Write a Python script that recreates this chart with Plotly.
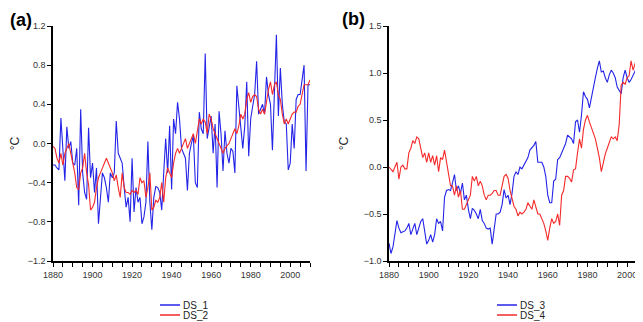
import plotly.graph_objects as go
from plotly.subplots import make_subplots

years_a = list(range(1880, 2011))
ds1 = [-0.22, -0.22, -0.25, -0.27, 0.26, -0.10, -0.38, 0.17, -0.05, 0.02,
       -0.20, -0.22, -0.05, -0.63, 0.35, -0.30, -0.50, -0.57, 0.16, -0.35,
       -0.20, -0.50, -0.25, -0.82, -0.50, -0.30, -0.35, -0.45, -0.60, -0.30,
       -0.35, -0.30, 0.23, -0.10, -0.15, -0.20, -0.45, -0.65, -0.55, -0.80,
       -0.15, -0.70, -0.45, -0.60, -0.55, -0.82, -0.75, -0.60, 0.02, -0.60,
       -0.88, -0.55, -0.44, -0.45, -0.50, -0.68, -0.30, 0.05, -0.30, 0.18,
       -0.47, 0.25, 0.10, 0.42, 0.25, -0.05, -0.10, -0.15, -0.48, -0.10,
       0.00, 0.08, -0.40, -0.45, 0.32, 0.15, 0.10, 0.92, 0.05, 0.15,
       0.28, -0.10, 0.20, -0.45, 0.33, 0.10, -0.28, 0.13, -0.10, -0.20,
       -0.05, -0.08, -0.30, 0.59, 0.35, 0.10, -0.05, 0.18, 0.63, -0.13,
       0.25, 0.38, 0.50, 0.84, 0.30, 0.35, 0.40, 0.30, 0.68, 0.50,
       0.40, -0.07, 0.55, 1.11, 0.28, 0.77, 0.40, 0.22, 0.20, -0.27,
       -0.20, 0.20, -0.05, 0.45, 0.50, 0.50, 0.65, 0.80, -0.28, 0.60,
       0.60]
ds2 = [-0.03, -0.05, -0.15, -0.20, -0.10, -0.22, -0.10, -0.05, 0.00, -0.10,
       -0.20, -0.30, -0.45, -0.47, -0.30, -0.25, -0.10, -0.30, -0.42, -0.68,
       -0.65, -0.60, -0.45, -0.35, -0.30, -0.25, -0.20, -0.15, -0.20, -0.25,
       -0.30, -0.38, -0.32, -0.45, -0.55, -0.30, -0.45, -0.50, -0.50, -0.52,
       -0.48, -0.50, -0.48, -0.52, -0.35, -0.40, -0.38, -0.55, -0.45, -0.30,
       -0.68, -0.65, -0.58, -0.60, -0.55, -0.40, -0.60, -0.35, -0.25, -0.30,
       -0.35, -0.20, -0.10, -0.05, -0.10, -0.05, 0.00, 0.05, -0.05, 0.00,
       0.05, 0.10, 0.00, 0.15, 0.25, 0.20, 0.25, 0.22, 0.10, 0.30,
       0.25, 0.15, 0.10, 0.05, 0.00, -0.05, -0.10, -0.05, -0.03, 0.00,
       0.05, 0.10, 0.15, 0.10, 0.18, 0.30, 0.25, 0.30, 0.45, 0.52,
       0.42, 0.48, 0.50, 0.48, 0.35, 0.30, 0.35, 0.30, 0.45, 0.55,
       0.63, 0.50, 0.60, 0.63, 0.50, 0.45, 0.30, 0.20, 0.25, 0.20,
       0.25, 0.30, 0.32, 0.32, 0.38, 0.40, 0.50, 0.60, 0.60, 0.60,
       0.65]

years_b = list(range(1880, 2009))
ds3 = [-0.81, -0.92, -0.85, -0.70, -0.57, -0.65, -0.70, -0.69, -0.68, -0.65,
       -0.60, -0.72, -0.66, -0.60, -0.72, -0.65, -0.58, -0.55, -0.70, -0.82,
       -0.78, -0.72, -0.80, -0.72, -0.55, -0.60, -0.58, -0.68, -0.32, -0.25,
       -0.24, -0.25, -0.17, -0.08, -0.25, -0.20, -0.28, -0.17, -0.35, -0.30,
       -0.45, -0.55, -0.44, -0.46, -0.50, -0.55, -0.45, -0.57, -0.60, -0.65,
       -0.66, -0.65, -0.82, -0.65, -0.50, -0.50, -0.48, -0.40, -0.24, -0.33,
       -0.30, -0.40, -0.28, -0.10, -0.05, -0.08, 0.00, -0.02, 0.02, 0.05,
       0.10, 0.18, 0.20, 0.23, 0.27, 0.05, 0.05, 0.05, 0.00, -0.10,
       -0.30, -0.38, -0.38, -0.15, -0.13, 0.08, 0.10, 0.15, 0.20, 0.25,
       0.34, 0.32, 0.30, 0.25, 0.48, 0.50, 0.37, 0.55, 0.80, 0.75,
       0.72, 0.63, 0.75, 0.85, 0.95, 1.05, 1.13, 1.01, 1.02, 0.95,
       0.90, 0.98, 1.03, 1.00, 0.95, 0.85, 0.82, 0.78, 0.95, 1.03,
       0.95, 0.90, 0.93, 0.97, 1.02, 1.10, 0.92, 0.90, 0.90]
ds4 = [0.00, -0.02, -0.05, 0.00, 0.05, -0.13, 0.00, 0.02, -0.02, -0.02,
       0.15, 0.20, 0.28, 0.25, 0.32, 0.30, 0.20, 0.10, 0.15, 0.05,
       0.15, 0.05, 0.12, 0.02, 0.12, -0.05, 0.10, 0.08, 0.18, 0.05,
       -0.10, -0.20, -0.20, -0.30, -0.20, -0.32, -0.25, -0.45, -0.45, -0.40,
       -0.35, -0.30, -0.10, -0.15, -0.10, -0.20, -0.15, -0.20, -0.30, -0.35,
       -0.30, -0.30, -0.28, -0.25, -0.25, -0.30, -0.30, -0.20, -0.10, -0.08,
       -0.12, -0.25, -0.35, -0.42, -0.45, -0.52, -0.48, -0.50, -0.48, -0.45,
       -0.38, -0.42, -0.45, -0.35, -0.42, -0.50, -0.50, -0.55, -0.60, -0.68,
       -0.78, -0.65, -0.55, -0.60, -0.58, -0.50, -0.62, -0.30, -0.25, -0.10,
       -0.10, -0.12, -0.16, -0.03, -0.02, 0.15, 0.30, 0.20, 0.40, 0.50,
       0.55, 0.48, 0.42, 0.37, 0.30, 0.20, 0.10, -0.05, 0.05, 0.14,
       0.20, 0.25, 0.32, 0.30, 0.32, 0.28, 0.45, 0.87, 0.90, 0.88,
       0.95, 0.97, 1.13, 1.03, 1.10, 1.17, 1.29, 1.31, 1.32]

names_a = ["DS_1", "DS_2"]
names_b = ["DS_3", "DS_4"]
blue = "#2424e8"
red = "#f52a2a"

# figure is drawn inside the page's 8px body margin, so sizes are in figure pixels
W, H = 635, 314
L, T, B = 45, 18, 61
PW, PH = W - L, H - T - B

fig = make_subplots(rows=1, cols=2, horizontal_spacing=0.0)
fig.add_trace(go.Scatter(x=years_a, y=ds1, mode="lines", name=names_a[0],
                         line=dict(color=blue, width=1.1)), row=1, col=1)
fig.add_trace(go.Scatter(x=years_a, y=ds2, mode="lines", name=names_a[1],
                         line=dict(color=red, width=1.1)), row=1, col=1)
fig.add_trace(go.Scatter(x=years_b, y=ds3, mode="lines", name=names_b[0],
                         line=dict(color=blue, width=1.1)), row=1, col=2)
fig.add_trace(go.Scatter(x=years_b, y=ds4, mode="lines", name=names_b[1],
                         line=dict(color=red, width=1.1)), row=1, col=2)

tickfont = dict(family="Liberation Sans, Arial, sans-serif", size=9, color="#333333")
xcommon = dict(showgrid=False, zeroline=False, showline=True, linecolor="black", linewidth=1.5,
               automargin=False,
               ticks="outside", ticklen=4, tickcolor="black", tickfont=tickfont,
               tickmode="array", tickvals=[1880, 1900, 1920, 1940, 1960, 1980, 2000],
               minor=dict(dtick=5, ticks="outside", ticklen=4, tickcolor="black", showgrid=False))
ycommon = dict(showgrid=False, zeroline=False, showline=True, linecolor="black", linewidth=1.5,
               automargin=False,
               ticks="outside", ticklen=4, tickcolor="black", tickfont=tickfont,
               title=dict(text="°C", font=dict(family="Liberation Sans, Arial, sans-serif", size=12, color="#222"), standoff=12))

fig.update_xaxes(xcommon)
fig.update_yaxes(ycommon)
fig.update_xaxes(range=[1880, 2010], domain=[0, 257 / PW], row=1, col=1)
fig.update_xaxes(range=[1880, 2008], domain=[336 / PW, 1], row=1, col=2)
fig.update_yaxes(range=[-1.2, 1.2], tickvals=[-1.2, -0.8, -0.4, 0.0, 0.4, 0.8, 1.2],
                 tickformat=".1f", row=1, col=1)
fig.update_yaxes(range=[-1.0, 1.5], tickvals=[-1.0, -0.5, 0.0, 0.5, 1.0, 1.5],
                 tickformat=".1f", row=1, col=2)

def px(xf):
    return (xf - L) / PW

def py(yf):
    return (T + PH - yf) / PH

annotations = [
    dict(text="<b>(a)</b>", x=px(0), y=py(12), xref="paper", yref="paper", showarrow=False,
         xanchor="left", yanchor="middle", font=dict(family="Liberation Sans, Arial", size=18, color="black")),
    dict(text="<b>(b)</b>", x=px(332), y=py(11), xref="paper", yref="paper", showarrow=False,
         xanchor="left", yanchor="middle", font=dict(family="Liberation Sans, Arial", size=18, color="black")),
]
shapes = []
leg_font = dict(family="Liberation Sans, Arial, sans-serif", size=10, color="#222")
legend_pos = [(152, names_a, [blue, red]), (489, names_b, [blue, red])]
for x0f, names, cols in legend_pos:
    for i, (nm, c) in enumerate(zip(names, cols)):
        yf = 297 + 10 * i
        shapes.append(dict(type="line", xref="paper", yref="paper", x0=px(x0f), x1=px(x0f + 20),
                           y0=py(yf), y1=py(yf), line=dict(color=c, width=1.5)))
        annotations.append(dict(text=nm, x=px(x0f + 21), y=py(yf), xref="paper", yref="paper",
                                showarrow=False, xanchor="left", yanchor="middle", font=leg_font))

fig.update_layout(width=W, height=H, margin=dict(l=L, r=0, t=T, b=B, autoexpand=False),
                  plot_bgcolor="white", paper_bgcolor="white", showlegend=False,
                  annotations=annotations, shapes=shapes)
fig.write_html("out.html")
